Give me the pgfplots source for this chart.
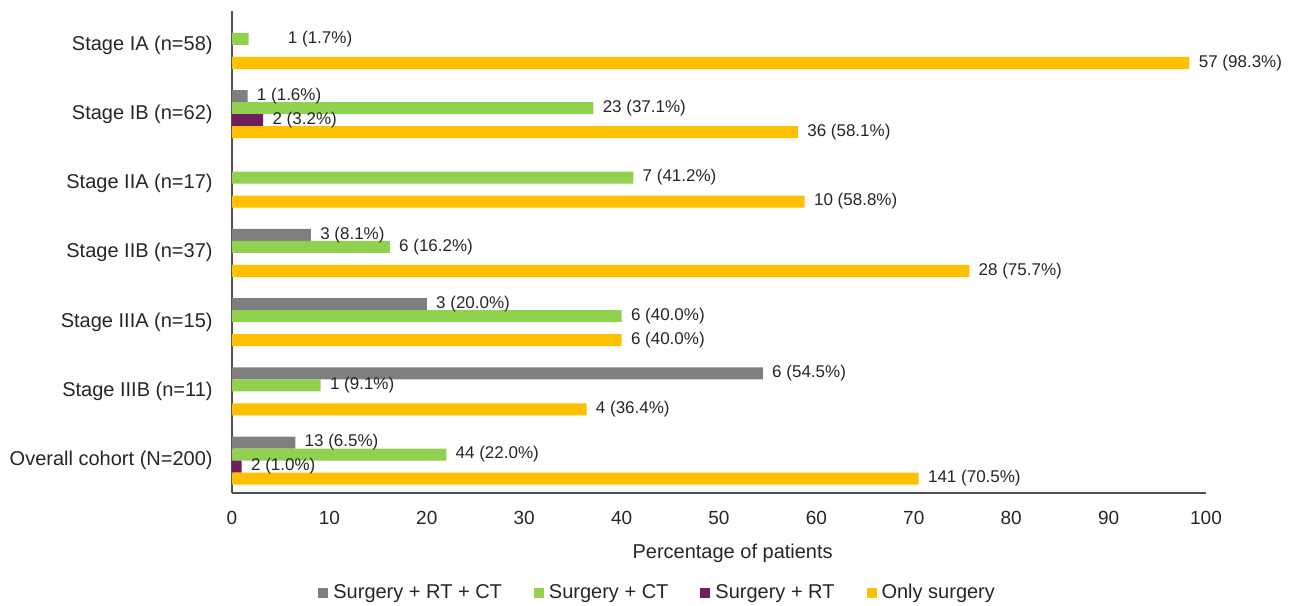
\documentclass[border=0pt]{standalone}
\usepackage{fontspec}
\setmainfont{Liberation Sans}
\usepackage{pgfplots}
\pgfplotsset{compat=1.18}
\definecolor{cGray}{RGB}{127,127,127}
\definecolor{cGreen}{RGB}{146,208,80}
\definecolor{cPurple}{RGB}{112,30,94}
\definecolor{cYellow}{RGB}{255,192,0}
\definecolor{cText}{RGB}{38,38,38}
\definecolor{cAxis}{RGB}{80,80,80}
\begin{document}
\begin{tikzpicture}
\begin{axis}[
  scale only axis, width=487pt, height=241pt,
  xmin=0, xmax=100, ymin=-0.469, ymax=6.491,
  xbar, bar width=6pt,
  axis lines*=left,
  axis line style={cAxis, line width=0.75pt},
  xtick={0,10,...,100}, ytick={0,...,6},
  yticklabels={Overall cohort (N=200), Stage IIIB (n=11), Stage IIIA (n=15), Stage IIB (n=37), Stage IIA (n=17), Stage IB (n=62), Stage IA (n=58)},
  major tick length=0pt,
  tick style={draw=none},
  /pgf/number format/assume math mode=true,
  xticklabel style={font=\fontsize{9.5}{11}\selectfont, text=cText, anchor=center, yshift=-12.5pt},
  yticklabel style={font=\fontsize{10}{12}\selectfont, text=cText, anchor=east, inner sep=0pt, xshift=-9.5pt},
  xlabel={Percentage of patients},
  xlabel style={font=\fontsize{10}{12}\selectfont, text=cText, at={(axis description cs:0.514,0)}, anchor=center, yshift=-30pt},
  nodes near coords, point meta=explicit symbolic,
  every node near coord/.append style={font=\fontsize{8.5}{10}\selectfont, text=cText, anchor=west, inner sep=0pt, xshift=4.5pt},
  legend columns=4,
  legend style={draw=none, fill=none, at={(axis description cs:0.436,-0.207)}, anchor=center,
    font=\fontsize{10}{12}\selectfont, text=cText, nodes={inner sep=0pt},
    /tikz/every odd column/.append style={column sep=2.5pt},
    /tikz/every even column/.append style={column sep=16pt}},
  legend image code/.code={\fill[#1] (0pt,-2.5pt) rectangle (5pt,2.5pt);},
]
\addplot[fill=cGray, draw=none, bar shift=9pt] coordinates {
  (1.6,5) [1 (1.6\%)]
  (8.1,3) [3 (8.1\%)]
  (20.0,2) [3 (20.0\%)]
  (54.5,1) [6 (54.5\%)]
  (6.5,0) [13 (6.5\%)]
};
\addplot[fill=cGreen, draw=none, bar shift=3pt] coordinates {
  (1.7,6) [\hspace*{15pt}\raisebox{2pt}{1 (1.7\%)}]
  (37.1,5) [23 (37.1\%)]
  (41.2,4) [7 (41.2\%)]
  (16.2,3) [6 (16.2\%)]
  (40.0,2) [6 (40.0\%)]
  (9.1,1) [1 (9.1\%)]
  (22.0,0) [44 (22.0\%)]
};
\addplot[fill=cPurple, draw=none, bar shift=-3pt] coordinates {
  (3.2,5) [2 (3.2\%)]
  (1.0,0) [2 (1.0\%)]
};
\addplot[fill=cYellow, draw=none, bar shift=-9pt] coordinates {
  (98.3,6) [57 (98.3\%)]
  (58.1,5) [36 (58.1\%)]
  (58.8,4) [10 (58.8\%)]
  (75.7,3) [28 (75.7\%)]
  (40.0,2) [6 (40.0\%)]
  (36.4,1) [4 (36.4\%)]
  (70.5,0) [141 (70.5\%)]
};
\legend{Surgery + RT + CT, Surgery + CT, Surgery + RT, Only surgery}
\end{axis}
\pgfresetboundingbox
\path[use as bounding box] ([shift={(-116pt,-56pt)}]current axis.south west) rectangle ([shift={(42pt,5.5pt)}]current axis.north east);
\end{tikzpicture}
\end{document}
